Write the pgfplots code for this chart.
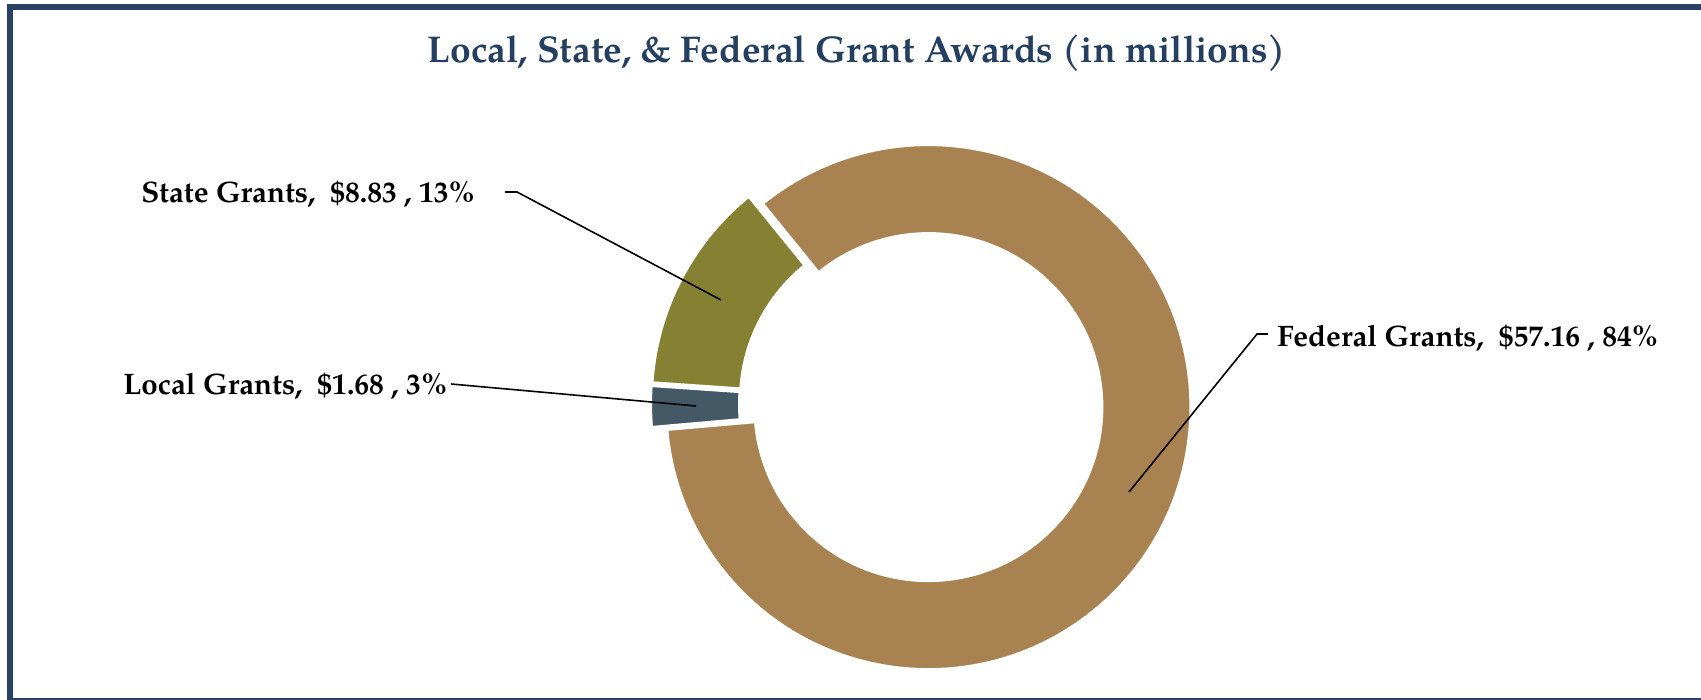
\documentclass[border=0pt]{standalone}
\usepackage{fontspec}
\setmainfont{TeX Gyre Pagella}
\usepackage{pgfplots}
\usepackage{pgfplotstable}
\pgfplotsset{compat=1.18}
\usetikzlibrary{calc}

\definecolor{navy}{RGB}{41,66,100}
\definecolor{titleblue}{RGB}{36,63,96}
\definecolor{fedcol}{RGB}{168,131,81}
\definecolor{statecol}{RGB}{134,128,51}
\definecolor{localcol}{RGB}{68,89,102}

\pgfplotstableread{
label value
Local 1.68
State 8.83
Federal 57.16
}\grants

\pgfplotstablegetelem{0}{value}\of\grants \let\vA\pgfplotsretval
\pgfplotstablegetelem{1}{value}\of\grants \let\vB\pgfplotsretval
\pgfplotstablegetelem{2}{value}\of\grants \let\vC\pgfplotsretval
\pgfmathsetmacro\tot{\vA+\vB+\vC}
\pgfmathsetmacro\aA{185}
\pgfmathsetmacro\aB{\aA-360*(\vA/\tot)}
\pgfmathsetmacro\aC{\aB-360*(\vB/\tot)}
\pgfmathsetmacro\aD{\aC-360*(\vC/\tot)}
\pgfmathsetmacro\mA{(\aA+\aB)/2}
\pgfmathsetmacro\mB{(\aB+\aC)/2}
\pgfmathsetmacro\mC{(\aC+\aD)/2}

% slice: color, start angle, end angle, mid angle
\newcommand\slice[4]{%
  \fill[#1, draw=white, line width=1pt, line join=miter]
   ($(axis cs:921,296)+(#4:4pt)+(#2:131pt)$) arc[start angle=#2, end angle=#3, radius=131pt]
   -- ($(axis cs:921,296)+(#4:4pt)+(#3:87pt)$) arc[start angle=#3, end angle=#2, radius=87pt] -- cycle;
}

\begin{document}
\begin{tikzpicture}
\begin{axis}[scale only axis, width=850.5pt, height=350pt,
  xmin=0, xmax=1701, ymin=0, ymax=700, hide axis, clip=true,
  at={(0,0)}, anchor=south west]
% frame
\draw[navy, line width=3pt] (axis cs:1760,693) -- (axis cs:10,693) -- (axis cs:10,-1) -- (axis cs:1760,-1);
% slices
\slice{localcol}{\aA}{\aB}{\mA}
\slice{statecol}{\aB}{\aC}{\mB}
\slice{fedcol}{\aC}{\aD}{\mC}
% title
\node[anchor=base, inner sep=0pt, text=titleblue, font=\fontsize{18.6}{20}\selectfont\bfseries]
  at (axis cs:857,637.3) {Local, State, \& Federal Grant Awards (in millions)};
% leader lines
\draw[black, line width=0.8pt] (axis cs:505,508) -- (axis cs:517,508) -- (axis cs:721,400);
\draw[black, line width=0.8pt] (axis cs:451,316) -- (axis cs:696,294);
\draw[black, line width=0.8pt] (axis cs:1268,366) -- (axis cs:1257,366) -- (axis cs:1129,208);
% labels
\node[anchor=base west, inner sep=0pt, font=\fontsize{14.8}{16}\selectfont\bfseries]
  at (axis cs:141,497.7) {State Grants,\ \ \$8.83 , 13\%};
\node[anchor=base west, inner sep=0pt, font=\fontsize{14.8}{16}\selectfont\bfseries]
  at (axis cs:123,305) {Local Grants,\ \ \$1.68 , 3\%};
\node[anchor=base west, inner sep=0pt, font=\fontsize{14.8}{16}\selectfont\bfseries]
  at (axis cs:1277,353.3) {Federal Grants,\ \ \$57.16 , 84\%};
\end{axis}
\pgfresetboundingbox
\path[use as bounding box] (0,0) rectangle (850.5pt,350pt);
\end{tikzpicture}
\end{document}
